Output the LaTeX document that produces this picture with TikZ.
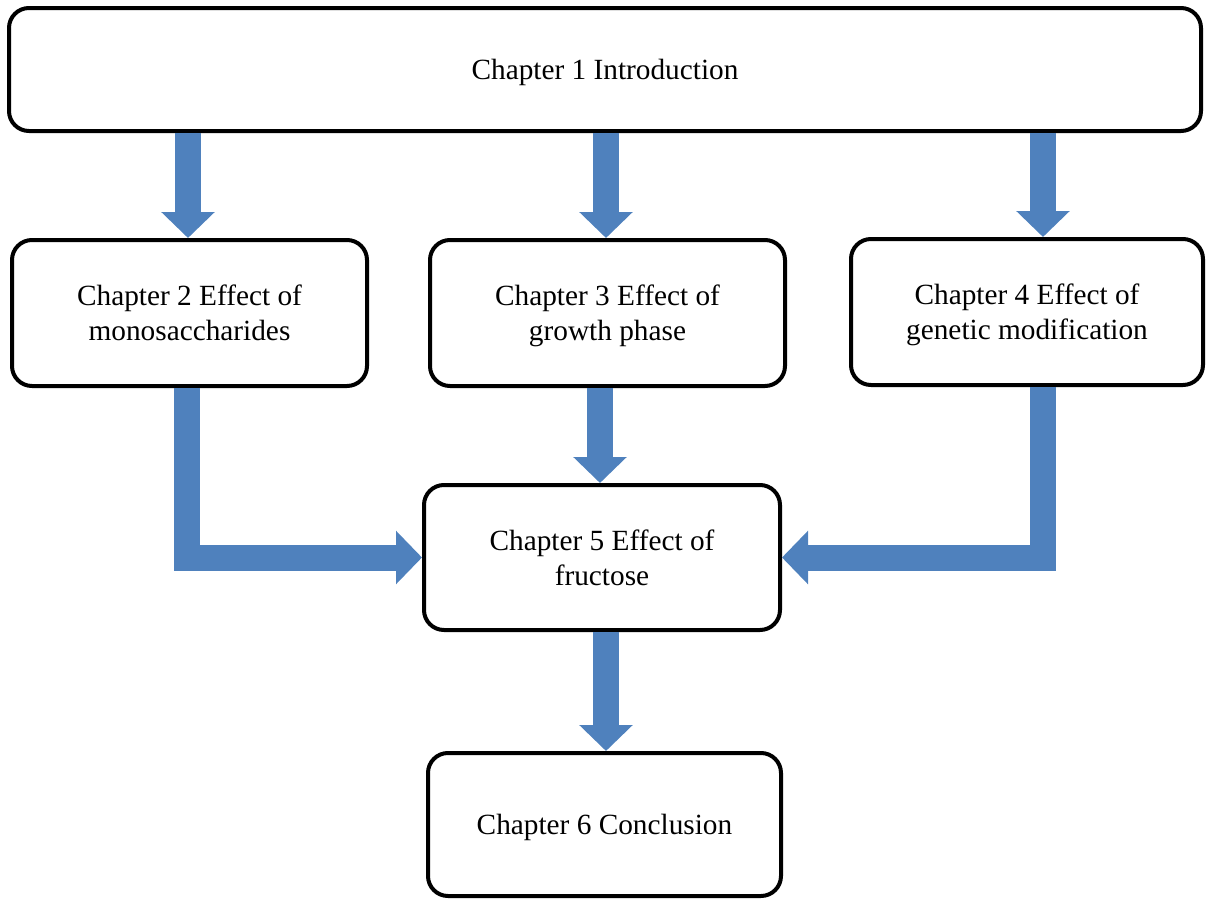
\documentclass[tikz,border=0pt]{standalone}
\usepackage{fontspec}
\setmainfont{Liberation Serif}
\usetikzlibrary{arrows.meta}
\definecolor{flowblue}{HTML}{4F81BD}
\tikzset{
  chapbox/.style={draw=black, line width=2pt, rounded corners=10pt, fill=white,
    align=center, inner sep=0pt, text depth=-3pt,
    font=\fontsize{14.65}{17.5}\selectfont},
  flow/.style={draw=flowblue, line width=13pt, line join=miter,
    -{Triangle[width=26pt,length=13pt]}, color=flowblue},
}
\begin{document}
\begin{tikzpicture}[x=0.5pt, y=-0.5pt]
  \useasboundingbox (0,0) rectangle (1207,900);

  % chapter boxes
  \node[chapbox, minimum width=596pt, minimum height=61.5pt] (c1) at (605,69.5) {Chapter 1 Introduction};
  \node[chapbox, minimum width=177.5pt, minimum height=73pt] (c2) at (189.5,313) {Chapter 2 Effect of\\monosaccharides};
  \node[chapbox, minimum width=177.5pt, minimum height=73pt] (c3) at (607.5,313) {Chapter 3 Effect of\\growth phase};
  \node[chapbox, minimum width=176pt, minimum height=73pt] (c4) at (1027,312) {Chapter 4 Effect of\\genetic modification};
  \node[chapbox, minimum width=178pt, minimum height=72.5pt, text depth=0pt] (c5) at (602,557.5) {Chapter 5 Effect of\\fructose};
  \node[chapbox, minimum width=176.5pt, minimum height=71.5pt] (c6) at (604.5,824.5) {Chapter 6 Conclusion};

  % block arrows
  \draw[flow] (c1.south -| 188,0) -- (c2.north -| 188,0);
  \draw[flow] (c1.south -| 606,0) -- (c3.north -| 606,0);
  \draw[flow] (c1.south -| 1043,0) -- (c4.north -| 1043,0);
  \draw[flow] (c3.south -| 600,0) -- (c5.north -| 600,0);
  \draw[flow] (c2.south -| 187,0) |- (c5.west);
  \draw[flow] (c4.south -| 1043,0) |- (c5.east);
  \draw[flow] (c5.south -| 606,0) -- (c6.north -| 606,0);
\end{tikzpicture}
\end{document}
